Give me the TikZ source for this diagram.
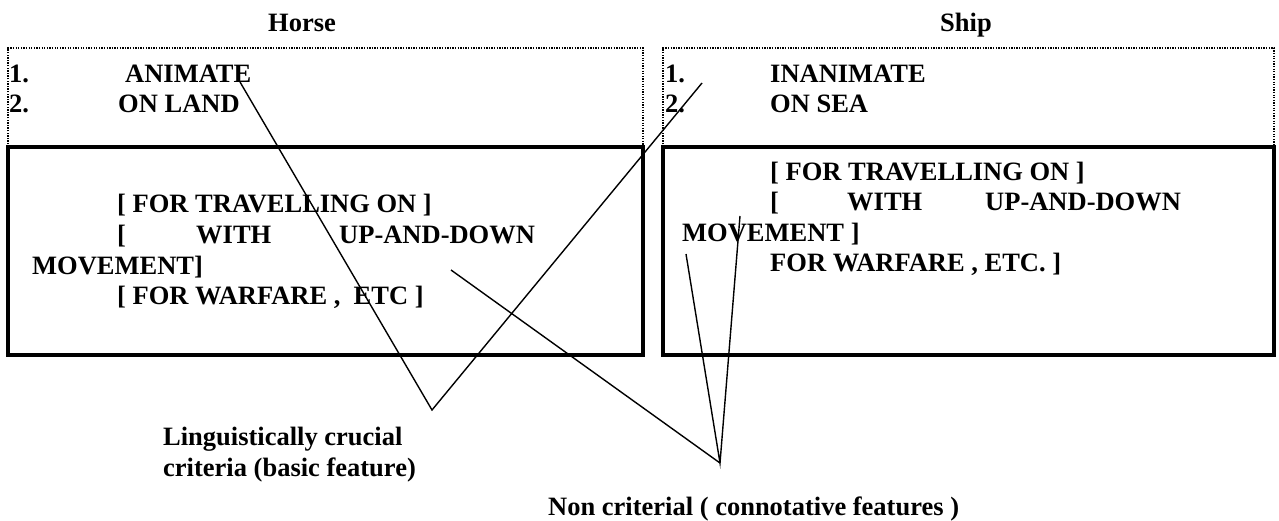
\documentclass[tikz,border=0pt]{standalone}
\usepackage{fontspec}
\setmainfont{Liberation Serif}
\usepackage{tikz}
\usetikzlibrary{positioning}
\newcommand{\featfont}{\fontsize{26.5}{30}\selectfont\bfseries}

\begin{document}
\begin{tikzpicture}[
          x=1pt, y=-1pt,
          txt/.style={anchor=base west, inner sep=0pt, font=\featfont},
          ttl/.style={anchor=base, inner sep=0pt, font=\featfont},
          framebox/.style={draw, line width=3.5pt, outer sep=0pt, inner sep=0pt,
                           anchor=north west, minimum height=208},
          dotbox/.style={draw, line width=1.3pt, dash pattern=on 1.3pt off 1.3pt},
          link/.style={draw, line width=1.4pt}
        ]
        \useasboundingbox (0,0) rectangle (1279,521);

        % titles
        \node[ttl] (horse) at (302, 32) {Horse};
        \node[ttl] (ship)  at (966, 32) {Ship};

        % feature boxes
        \node[framebox, minimum width=635] (hbox) at (8, 147) {};
        \node[framebox, minimum width=611] (sbox) at (663, 147) {};
        \draw[dotbox] (hbox.north west) -- ++(0,-99) -| (hbox.north east);
        \draw[dotbox] (sbox.north west) -- ++(0,-99) -| (sbox.north east);

        % horse: basic features
        \node[txt] (hn1)  at (9, 83)    {1.};
        \node[txt] (hani) at (125, 83)  {ANIMATE};
        \node[txt] (hn2)  at (9, 113)   {2.};
        \node[txt] (hlnd) at (118, 113) {ON LAND};

        % ship: basic features
        \node[txt] (sn1)  at (665, 83)  {1.};
        \node[txt] (sina) at (770, 83)  {INANIMATE};
        \node[txt] (sn2)  at (665, 113) {2.};
        \node[txt] (ssea) at (770, 113) {ON SEA};

        % horse: connotations
        \node[txt] (htrv) at (117, 213) {[ FOR TRAVELLING ON ]};
        \node[txt] (hbr)  at (117, 244) {[};
        \node[txt] (hwth) at (196, 244) {WITH};
        \node[txt] (hupd) at (339, 244) {UP-AND-DOWN};
        \node[txt] (hmov) at (32, 274)  {MOVEMENT]};
        \node[txt] (hwar) at (117, 305) {[ FOR WARFARE ,\ \ ETC ]};

        % ship: connotations
        \node[txt] (strv) at (770, 181) {[ FOR TRAVELLING ON ]};
        \node[txt] (sbr)  at (770, 211) {[};
        \node[txt] (swth) at (847, 211) {WITH};
        \node[txt] (supd) at (985, 211) {UP-AND-DOWN};
        \node[txt] (smov) at (682, 242) {MOVEMENT ]};
        \node[txt] (swar) at (770, 272) {FOR WARFARE , ETC. ]};

        % labels
        \node[txt] (crit1) at (163, 445) {Linguistically crucial};
        \node[txt] (crit2) at (163, 476) {criteria (basic feature)};
        \node[txt] (ncrit) at (548, 515) {Non criterial ( connotative features )};

        \coordinate (critTip) at (432, 410);
        \coordinate (nonTip)  at (720, 463);
        \coordinate (aniEnd)  at (240, 82);
        \coordinate (inaEnd)  at (702, 83);
        \coordinate (hmovEnd) at (451, 270);
        \coordinate (smovA)   at (686, 254);
        \coordinate (smovB)   at (740, 216);

        \draw[link] (aniEnd) -- (critTip) -- (inaEnd);
        \draw[link] (hmovEnd) -- (nonTip);
        \draw[link] (smovA) -- (nonTip) -- (smovB);
      \end{tikzpicture}
\end{document}
